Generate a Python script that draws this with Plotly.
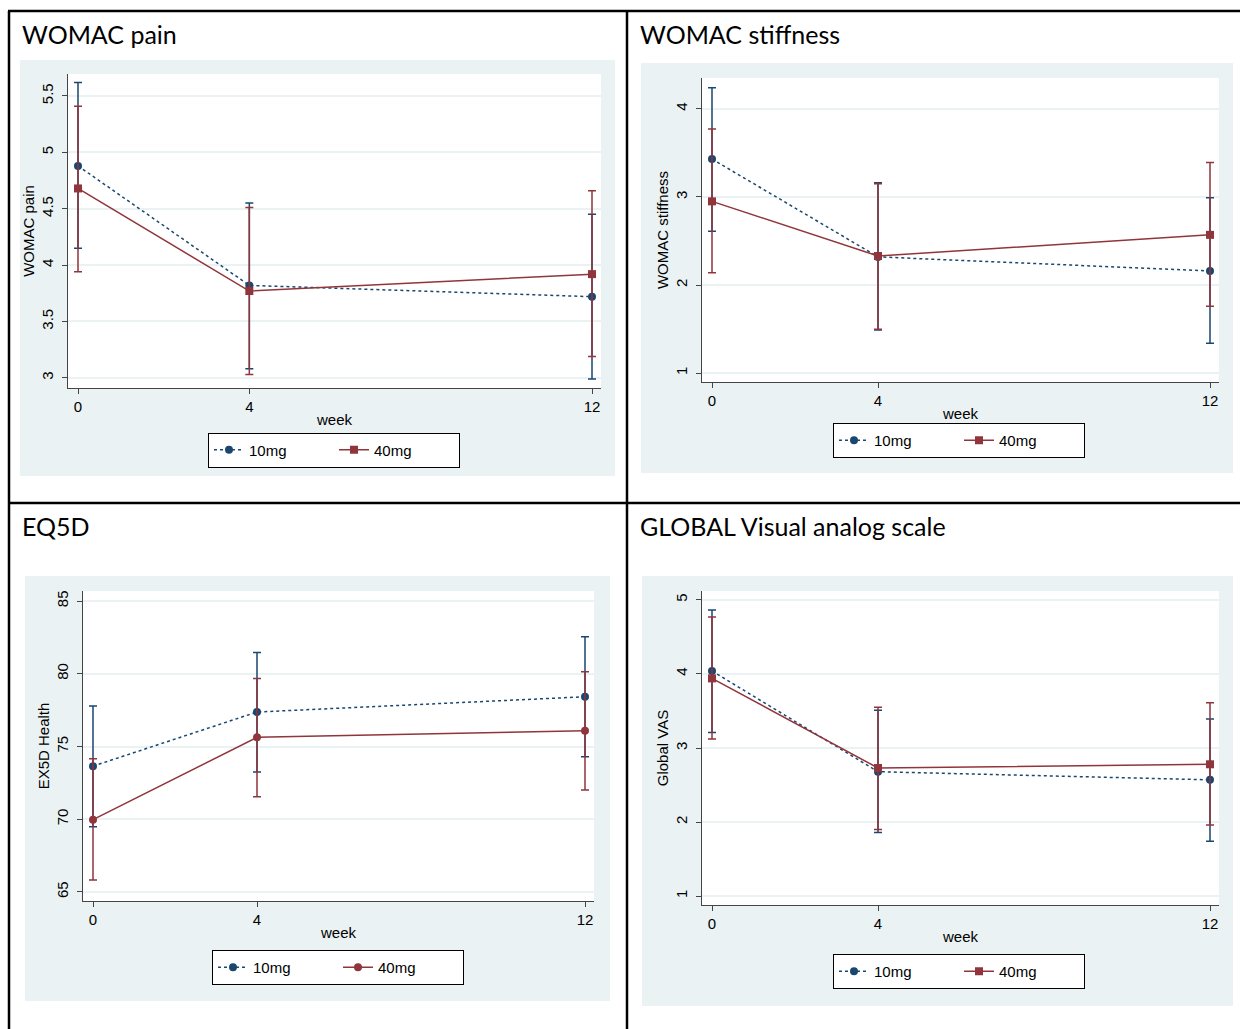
import plotly.graph_objects as go

W, H = 1240, 1029

weeks = [0, 4, 12]
week_ticks = [0, 4, 12]
series_names = ["10mg", "40mg"]

# WOMAC pain
pain_10_mean = [4.88, 3.82, 3.72]
pain_10_hi = [5.62, 4.55, 4.45]
pain_10_lo = [4.15, 3.08, 2.99]
pain_40_mean = [4.68, 3.77, 3.92]
pain_40_hi = [5.41, 4.51, 4.66]
pain_40_lo = [3.94, 3.03, 3.19]
pain_ticks = [3, 3.5, 4, 4.5, 5, 5.5]

# WOMAC stiffness
stiff_10_mean = [3.43, 2.32, 2.16]
stiff_10_hi = [4.24, 3.16, 2.99]
stiff_10_lo = [2.61, 1.49, 1.34]
stiff_40_mean = [2.95, 2.33, 2.57]
stiff_40_hi = [3.77, 3.15, 3.39]
stiff_40_lo = [2.14, 1.50, 1.76]
stiff_ticks = [1, 2, 3, 4]

# EQ5D
eq_10_mean = [73.65, 77.37, 78.42]
eq_10_hi = [77.78, 81.47, 82.54]
eq_10_lo = [69.49, 73.25, 74.29]
eq_40_mean = [69.97, 75.63, 76.08]
eq_40_hi = [74.15, 79.68, 80.14]
eq_40_lo = [65.82, 71.54, 72.01]
eq_ticks = [65, 70, 75, 80, 85]

# Global VAS
vas_10_mean = [4.04, 2.68, 2.57]
vas_10_hi = [4.865, 3.51, 3.39]
vas_10_lo = [3.21, 1.86, 1.74]
vas_40_mean = [3.94, 2.73, 2.78]
vas_40_hi = [4.77, 3.55, 3.61]
vas_40_lo = [3.12, 1.90, 1.96]
vas_ticks = [1, 2, 3, 4, 5]

BLUE = "#1a476f"
RED = "#90353b"
BG = "#eaf2f3"
FONT = "Liberation Sans, Arial, sans-serif"
TFONT = "Lato, Open Sans, sans-serif"


def fx(p):
    return p / W


def fy(p):
    return 1 - p / H


panels = [
    dict(title="WOMAC pain", ytitle="WOMAC pain", plot=(68, 601, 74, 388), yr=(2.91, 5.695),
         gray=(20, 615, 60, 476), leg=(334, 450), ticks=pain_ticks, title_pos=(20, 34),
         d10=(pain_10_mean, pain_10_hi, pain_10_lo), d40=(pain_40_mean, pain_40_hi, pain_40_lo),
         sym40="square"),
    dict(title="WOMAC stiffness", ytitle="WOMAC stiffness", plot=(702, 1219, 78, 382), yr=(0.9, 4.35),
         gray=(641, 1233, 63, 473), leg=(959, 440.5), ticks=stiff_ticks, title_pos=(638, 34),
         d10=(stiff_10_mean, stiff_10_hi, stiff_10_lo), d40=(stiff_40_mean, stiff_40_hi, stiff_40_lo),
         sym40="square"),
    dict(title="EQ5D", ytitle="EX5D Health", plot=(83, 594, 591, 901), yr=(64.38, 85.69),
         gray=(25, 610, 576, 1001), leg=(338, 967.5), ticks=eq_ticks, title_pos=(20, 526),
         d10=(eq_10_mean, eq_10_hi, eq_10_lo), d40=(eq_40_mean, eq_40_hi, eq_40_lo),
         sym40="circle"),
    dict(title="GLOBAL Visual analog scale", ytitle="Global VAS", plot=(702, 1219, 591, 905), yr=(0.88, 5.12),
         gray=(642, 1233, 576, 1006), leg=(959, 971.5), ticks=vas_ticks, title_pos=(638, 526),
         d10=(vas_10_mean, vas_10_hi, vas_10_lo), d40=(vas_40_mean, vas_40_hi, vas_40_lo),
         sym40="square"),
]

fig = go.Figure()
shapes = []
annotations = []
layout = dict(width=W, height=H, autosize=False, margin=dict(l=0, r=0, t=0, b=0),
              paper_bgcolor="white", plot_bgcolor="white", showlegend=True)

for i, p in enumerate(panels):
    n = i + 1
    xa = "x" if n == 1 else f"x{n}"
    ya = "y" if n == 1 else f"y{n}"
    xk = "xaxis" if n == 1 else f"xaxis{n}"
    yk = "yaxis" if n == 1 else f"yaxis{n}"
    lk = "legend" if n == 1 else f"legend{n}"
    x0, x1, y0, y1 = p["plot"]
    ppu = ((x1 - 9) - (x0 + 10)) / 12.0
    xr = (-10 / ppu, 12 + 9 / ppu)

    g = p["gray"]
    shapes.append(dict(type="rect", xref="paper", yref="paper", x0=fx(g[0]), x1=fx(g[1]),
                       y0=fy(g[3]), y1=fy(g[2]), fillcolor=BG, line=dict(width=0), layer="below"))
    shapes.append(dict(type="rect", xref="paper", yref="paper", x0=fx(x0), x1=fx(x1),
                       y0=fy(y1), y1=fy(y0), fillcolor="white", line=dict(width=0), layer="below"))

    for name, data, color, dash, sym in [
        ("10mg", p["d10"], BLUE, "3px,3px", "circle"),
        ("40mg", p["d40"], RED, "solid", p["sym40"]),
    ]:
        mean, hi, lo = data
        fig.add_trace(go.Scatter(
            x=weeks, y=mean, name=name, xaxis=xa, yaxis=ya, legend=lk,
            mode="lines+markers",
            line=dict(color=color, width=1.5, dash=dash),
            marker=dict(symbol=sym, size=8, color=color),
            error_y=dict(type="data", symmetric=False,
                         array=[h - m for h, m in zip(hi, mean)],
                         arrayminus=[m - l for m, l in zip(mean, lo)],
                         color=color, thickness=1.5, width=4),
        ))

    layout[xk] = dict(domain=[fx(x0), fx(x1)], range=list(xr), anchor=ya,
                      tickvals=week_ticks, ticktext=[str(t) for t in week_ticks],
                      ticks="outside", ticklen=5, tickcolor="#444", showline=True,
                      linecolor="#444", linewidth=1, showgrid=False, zeroline=False,
                      tickfont=dict(family=FONT, size=15, color="black"),
                      title=dict(text="week", font=dict(family=FONT, size=15, color="black"), standoff=0))
    layout[yk] = dict(domain=[fy(y1), fy(y0)], range=list(p["yr"]), anchor=xa,
                      tickvals=p["ticks"], ticks="outside", ticklen=5, tickcolor="#444",
                      showline=True, linecolor="#444", linewidth=1, showgrid=True,
                      gridcolor=BG, gridwidth=1.5, zeroline=False, tickangle=-90,
                      ticklabelstandoff=3,
                      tickfont=dict(family=FONT, size=15, color="black"),
                      title=dict(text=p["ytitle"], font=dict(family=FONT, size=15, color="black"), standoff=0))
    layout[lk] = dict(orientation="h", x=fx(p["leg"][0]), xanchor="center",
                      y=fy(p["leg"][1]), yanchor="middle", bgcolor="white",
                      bordercolor="black", borderwidth=1,
                      font=dict(family=FONT, size=15, color="black"),
                      entrywidth=80, entrywidthmode="pixels", itemclick=False)

    annotations.append(dict(text=p["title"], xref="paper", yref="paper",
                            x=fx(p["title_pos"][0]), y=fy(p["title_pos"][1]),
                            xanchor="left", yanchor="middle", showarrow=False,
                            font=dict(family=TFONT, size=25, color="black")))

# frame lines
for (a, b, c, d) in [(8, 11, 1240, 11), (9, 11, 9, 1029), (627, 11, 627, 1029), (9, 503, 1240, 503)]:
    shapes.append(dict(type="line", xref="paper", yref="paper", x0=fx(a), y0=fy(b), x1=fx(c), y1=fy(d),
                       line=dict(color="black", width=2.5), layer="above"))

layout["shapes"] = shapes
layout["annotations"] = annotations
fig.update_layout(**layout)
fig.write_html("out.html", config={"displayModeBar": False},
               post_script="document.body.style.margin='0';document.body.style.overflow='hidden';")
